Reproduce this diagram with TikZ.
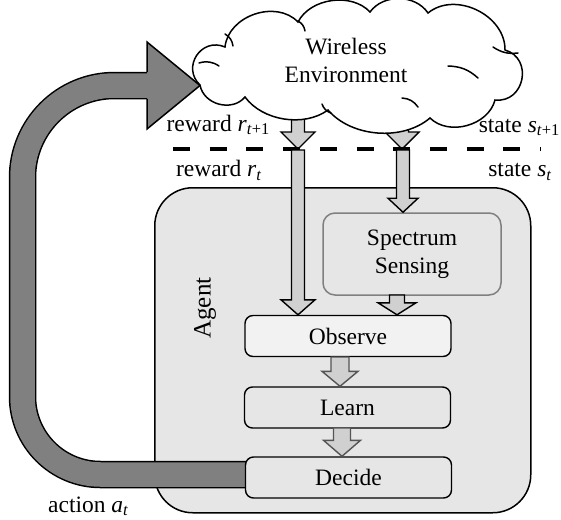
\documentclass[tikz,border=0pt]{standalone}
\usepackage{fontspec}
\setmainfont{Liberation Serif}
\usetikzlibrary{calc}
\definecolor{agentbg}{HTML}{E6E6E6}
\definecolor{obsbg}{HTML}{F2F2F2}
\definecolor{bigarrow}{HTML}{808080}
\definecolor{smallarrow}{HTML}{D0D0D0}
\definecolor{sensedge}{HTML}{808080}
\definecolor{lowedge}{HTML}{555555}
% #1 style, #2 start, #3 tip, #4 half shaft width, #5 half head width, #6 head length
\newcommand{\blockarrow}[6]{%
  \path[#1] let \p1=(#2), \p2=(#3) in
    (\x1-#4pt,\y1) -- (\x1-#4pt,\y2+#6pt) -- (\x1-#5pt,\y2+#6pt) -- (\x1,\y2)
    -- (\x1+#5pt,\y2+#6pt) -- (\x1+#4pt,\y2+#6pt) -- (\x1+#4pt,\y1) -- cycle;}
\begin{document}
\begin{tikzpicture}[x=1pt,y=-1pt,
  font=\fontsize{23.5}{28}\selectfont,
  stepbox/.style={draw, line width=1.4pt, rounded corners=8pt, minimum width=206pt,
    minimum height=41pt, inner sep=0pt},
  blk/.style={draw, line width=1.4pt, fill=smallarrow, line join=miter},
  blkgray/.style={draw=lowedge, line width=1.4pt, fill=smallarrow, line join=miter},
  cloudline/.style={line width=1.5pt, line join=miter},
  lbl/.style={inner sep=0pt, font=\fontsize{23.5}{28}\selectfont}]
\useasboundingbox (0,0) rectangle (561,519);

% agent box
\node[draw, line width=1.5pt, fill=agentbg, rounded corners=38pt, minimum width=376pt,
  minimum height=325pt, inner sep=0pt, anchor=north west] (agent) at (154,187) {};
\node[rotate=90, font=\fontsize{25}{30}\selectfont, inner sep=0pt] (agentlbl) at (205,308) {Agent};

% spectrum sensing
\node[draw=sensedge, line width=1.5pt, fill=agentbg, rounded corners=12pt, minimum width=178pt,
  minimum height=82pt, inner sep=0pt, align=center] (sens) at (412,254) {Spectrum\\Sensing};

% steps
\node[stepbox, fill=obsbg] (obs) at (348,336) {Observe};
\node[stepbox, fill=agentbg] (learn) at (347.5,407.5) {Learn};

% big action arrow
\coordinate (abeg) at (247,474.5);
\coordinate (ac1) at (22.5,474.5);
\coordinate (ac2) at (22.5,85.5);
\coordinate (aend) at (148,85.5);
\draw[line width=27.5pt, black] (abeg) [rounded corners=78pt] -- (ac1) [rounded corners=92pt] -- (ac2) -- (aend);
\draw[line width=24.5pt, bigarrow] (abeg) [rounded corners=78pt] -- (ac1) [rounded corners=92pt] -- (ac2) -- (aend);
\coordinate (htop) at (147,42);
\coordinate (hbot) at (147,129);
\coordinate (htip) at (200,85.5);
\fill[bigarrow] (htop) -- (htip) -- (hbot) -- cycle;
\draw[line width=1.5pt, line join=miter] (147,72.2) -- (htop) -- (htip) -- (hbot) -- (147,98.8);

\node[stepbox, fill=agentbg] (decide) at (348.5,477.5) {Decide};

% small arrows
\coordinate (rw1) at (298,112);
\coordinate (rwtip1) at (298,149);
\coordinate (st1) at (402,112);
\coordinate (sttip1) at (402,149);
\coordinate (rw2) at (298,150);
\coordinate (st2) at (403,150);
\blockarrow{blk}{rw1}{rwtip1}{6.5}{17}{17}
\blockarrow{blk}{st1}{sttip1}{6.5}{17}{17}

% dashed separator
\coordinate (dl) at (173,148.5);
\coordinate (dr) at (541,148.5);
\draw[line width=4pt, dash pattern=on 17pt off 19.7pt] (dl) -- (dr);

\blockarrow{blk}{rw2}{obs.north -| rw2}{6.5}{17}{15}
\blockarrow{blk}{st2}{sens.north -| st2}{6.5}{15}{14}
\coordinate (so) at (397,295);
\blockarrow{blk}{so}{obs.north -| so}{7.5}{19}{12}
\coordinate (ol) at (340,357);
\blockarrow{blkgray}{ol}{learn.north -| ol}{9}{18}{15}
\coordinate (ld) at (342,428);
\blockarrow{blkgray}{ld}{decide.north -| ld}{8.5}{18.5}{16}

% cloud (wireless environment)
\coordinate (j1) at (200,85);
\coordinate (j2) at (225,47);
\coordinate (j3) at (298,22);
\coordinate (j4) at (370,12);
\coordinate (j5) at (428,13);
\coordinate (j6) at (505,50);
\coordinate (j7) at (495,100);
\coordinate (j8) at (430,118);
\coordinate (j9) at (328,110);
\coordinate (j10) at (245,97);
\draw[cloudline, fill=white]
  (j1) to[bend left=80, looseness=1.45] (j2)
       to[bend left=65, looseness=1.05] (j3)
       to[bend left=55, looseness=0.95] (j4)
       to[bend left=55, looseness=1.0] (j5)
       to[bend left=65, looseness=1.05] (j6)
       to[bend left=85, looseness=1.5] (j7)
       to[bend left=60, looseness=1.0] (j8)
       to[bend left=45, looseness=0.9] (j9)
       to[bend left=45, looseness=0.9] (j10)
       to[bend left=65, looseness=1.1] (j1) -- cycle;
% small inner strokes of the cloud
\draw[cloudline, line cap=round] (199,63) to[bend left=25] (219,66);
\draw[cloudline, line cap=round] (225,34) to[bend left=25] (233,46);
\draw[cloudline, line cap=round] (298,21) to[bend left=25] (305,31);
\draw[cloudline, line cap=round] (493,47) to[bend right=20] (518,53);
\draw[cloudline, line cap=round] (448,66) to[bend left=20] (478,78);
\draw[cloudline, line cap=round] (402,98) to[bend left=25] (418,107);
\draw[cloudline, line cap=round] (322,104) to[bend right=25] (331,113);
\node[align=center, inner sep=0pt] (env) at (346,60) {Wireless\\Environment};

% labels
\node[lbl, anchor=base east] (lr1) at (270,131) {reward \textit{r}\textsubscript{\textit{t}+1}};
\node[lbl, anchor=base east] (lr0) at (262,176.5) {reward \textit{r}\textsubscript{\textit{t}}};
\node[lbl, anchor=base east] (ls1) at (560,132) {state \textit{s}\textsubscript{\textit{t}+1}};
\node[lbl, anchor=base east] (ls0) at (552,176.5) {state \textit{s}\textsubscript{\textit{t}}};
\node[lbl, anchor=base west] (la) at (48,512) {action \textit{a}\textsubscript{\textit{t}}};
\end{tikzpicture}
\end{document}
